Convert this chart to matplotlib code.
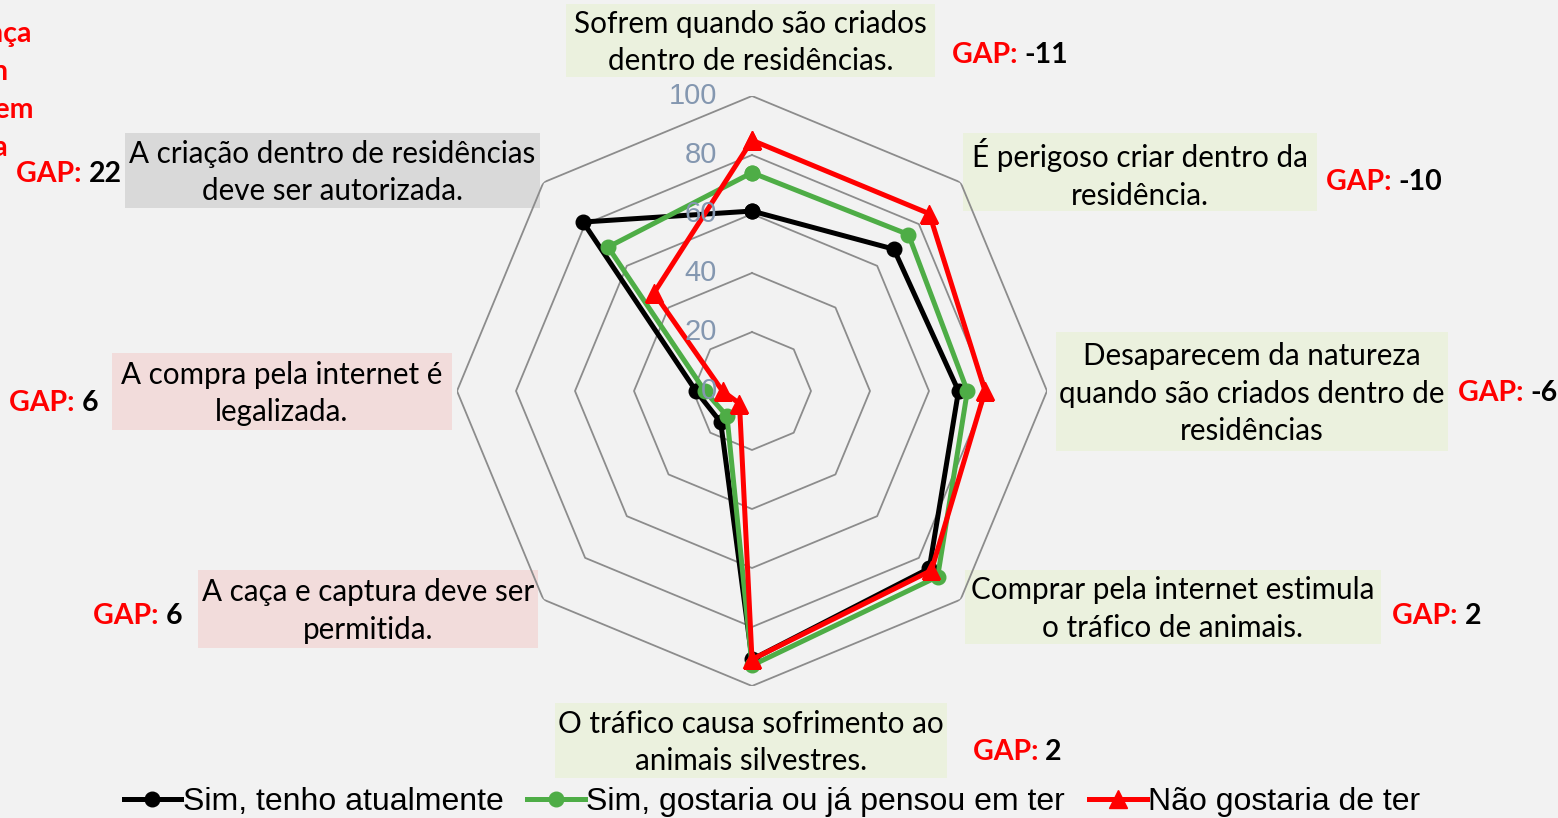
import numpy as np
import matplotlib
matplotlib.use("Agg")
import matplotlib.pyplot as plt
from matplotlib.patches import Rectangle
from matplotlib.transforms import ScaledTranslation

# perguntas, no sentido horario a partir do topo
categorias = [
    "Sofrem quando são criados\ndentro de residências.",
    "É perigoso criar dentro da\nresidência.",
    "Desaparecem da natureza\nquando são criados dentro de\nresidências",
    "Comprar pela internet estimula\no tráfico de animais.",
    "O tráfico causa sofrimento ao\nanimais silvestres.",
    "A caça e captura deve ser\npermitida.",
    "A compra pela internet é\nlegalizada.",
    "A criação dentro de residências\ndeve ser autorizada.",
]
gaps = ["-11", "-10", "-6", "2", "2", "6", "6", "22"]

sim_tenho = [61, 68, 70, 85, 91, 15, 19, 81]
sim_gostaria = [74, 75, 73, 89, 93, 12, 16, 69]
nao_gostaria = [85, 85, 79, 86, 91, 6, 10, 47]

series = ["Sim, tenho atualmente", "Sim, gostaria ou já pensou em ter", "Não gostaria de ter"]
niveis = [20, 40, 60, 80, 100]
nivel_labels = ["0", "20", "40", "60", "80", "100"]

W, H = 1558, 818
fig = plt.figure(figsize=(W / 100, H / 100), dpi=100)
fig.patch.set_facecolor("#F2F2F2")

cx, cy, R = 752, 391, 295
ax = fig.add_axes([(cx - R) / W, (H - cy - R) / H, 2 * R / W, 2 * R / H], projection="polar")
ax.set_facecolor("none")
ax.set_theta_offset(np.pi / 2)
ax.set_theta_direction(-1)
ax.set_ylim(0, 100)
ax.grid(False)
ax.set_xticks([])
ax.set_yticks([])
ax.spines["polar"].set_visible(False)

n = len(categorias)
ang = np.linspace(0, 2 * np.pi, n, endpoint=False)
ang_c = np.append(ang, ang[0])

# grade octogonal
for v in niveis:
    ax.plot(ang_c, [v] * (n + 1), color="#8C8C8C", lw=1.3, zorder=1)

def fechar(v):
    return v + v[:1]

ax.plot(ang_c, fechar(sim_tenho), color="black", lw=3.6, marker="o", ms=10.5, label=series[0], zorder=3)
ax.plot(ang_c, fechar(sim_gostaria), color="#4EAD46", lw=3.6, marker="o", ms=10.5, label=series[1], zorder=4)
ax.plot(ang_c, fechar(nao_gostaria), color="#FF0000", lw=3.6, marker="^", ms=13, label=series[2], zorder=5)

# rotulos radiais
off = ScaledTranslation(-35 / 100, 0, fig.dpi_scale_trans)
for i, lab in enumerate(nivel_labels):
    ax.text(0, i * 20, lab, transform=ax.transData + off, ha="right", va="center",
            fontsize=21, color="#8497B0", family="Liberation Sans", zorder=6)

def fx(x):
    return x / W

def fy(y):
    return 1 - y / H

# caixas das perguntas (x0, y0, x1, y1 em pixels) e cores
caixas = [
    (566, 4, 935, 77, "#EBF1DE"),
    (963, 133, 1317, 211, "#EBF1DE"),
    (1056, 332, 1448, 451, "#EBF1DE"),
    (965, 570, 1381, 644, "#EBF1DE"),
    (555, 703, 947, 778, "#EBF1DE"),
    (198, 570, 538, 648, "#F2DCDB"),
    (112, 353, 452, 430, "#F2DCDB"),
    (125, 133, 540, 208, "#D9D9D9"),
]
for (x0, y0, x1, y1, c), txt in zip(caixas, categorias):
    fig.add_artist(Rectangle((fx(x0), fy(y1)), fx(x1 - x0), (y1 - y0) / H,
                             transform=fig.transFigure, facecolor=c, edgecolor="none", zorder=0))
    fig.text(fx((x0 + x1) / 2), fy((y0 + y1) / 2 + 2), txt, ha="center", va="center",
             fontsize=21.3, family="Lato", linespacing=1.43, color="black")

# GAP
gap_pos = [(952, 55), (1326, 182), (1458, 393), (1392, 616), (973, 752), (93, 616), (9, 403), (16, 174)]
for (gx, gy), g in zip(gap_pos, gaps):
    t = fig.text(fx(gx), fy(gy), "GAP: ", ha="left", va="center", fontsize=20.5,
                 family="Lato", weight="bold", color="#FF0000")
    ax.annotate(g, xy=(1, 0.5), xycoords=t, ha="left", va="center", fontsize=20.5,
                family="Lato", weight="bold", color="black", annotation_clip=False)

# texto cortado no canto superior esquerdo
cortado = ["Diferença", "Gostaria − Não, n", "em porcentagem", "por pergunta"]
borda = [32, 8, 33, 8]
for i, s in enumerate(cortado):
    fig.text(fx(borda[i]), fy(34 + 38 * i), s, ha="right", va="center", fontsize=20.5,
             family="Lato", weight="bold", color="#FF0000")

leg = fig.legend(loc="center", bbox_to_anchor=(fx(772), fy(802)), ncol=3, frameon=False,
                 prop={"family": "Liberation Sans", "size": 23}, handlelength=1.8,
                 handletextpad=0.05, columnspacing=0.75)

fig.savefig("out.png", dpi=100, facecolor=fig.get_facecolor())
